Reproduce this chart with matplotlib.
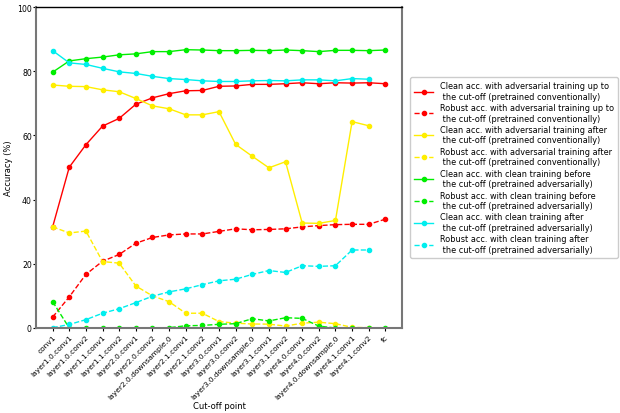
import matplotlib
matplotlib.use('Agg')
import matplotlib.pyplot as plt

layers = ['conv1', 'layer1.0.conv1', 'layer1.0.conv2', 'layer1.1.conv1', 'layer1.1.conv2',
          'layer2.0.conv1', 'layer2.0.conv2', 'layer2.0.downsample.0', 'layer2.1.conv1',
          'layer2.1.conv2', 'layer3.0.conv1', 'layer3.0.conv2', 'layer3.0.downsample.0',
          'layer3.1.conv1', 'layer3.1.conv2', 'layer4.0.conv1', 'layer4.0.conv2',
          'layer4.0.downsample.0', 'layer4.1.conv1', 'layer4.1.conv2', 'fc']

# adversarial training up to the cut-off (pretrained conventionally)
clean_adv_upto = [31.5, 50.1, 57.1, 62.9, 65.3, 69.7, 71.7, 73.0, 73.9, 74.0, 75.3,
                  75.4, 75.9, 75.9, 76.1, 76.4, 76.1, 76.4, 76.3, 76.4, 76.1]
robust_adv_upto = [3.4, 9.7, 16.7, 20.8, 22.9, 26.4, 28.2, 29.0, 29.3, 29.3, 30.1,
                   30.9, 30.6, 30.7, 30.9, 31.5, 31.9, 32.2, 32.3, 32.3, 33.9]

# adversarial training after the cut-off (pretrained conventionally), no fc point
clean_adv_after = [75.7, 75.3, 75.2, 74.2, 73.6, 71.5, 69.2, 68.3, 66.4, 66.4, 67.4,
                   57.2, 53.5, 49.9, 51.8, 32.7, 32.6, 33.5, 64.3, 63.0]
robust_adv_after = [31.5, 29.6, 30.2, 20.7, 20.2, 13.1, 10.0, 8.2, 4.6, 4.6, 2.0,
                    1.5, 1.25, 1.2, 0.6, 1.5, 1.8, 1.35, 0.2, 0.1]

# clean training before the cut-off (pretrained adversarially)
clean_cln_before = [79.7, 83.2, 83.9, 84.4, 85.1, 85.4, 86.1, 86.1, 86.7, 86.6, 86.4,
                    86.4, 86.5, 86.4, 86.6, 86.4, 86.1, 86.5, 86.5, 86.4, 86.6]
robust_cln_before = [8.2, 0.0, 0.0, 0.0, 0.0, 0.0, 0.0, 0.1, 0.7, 0.8, 1.15,
                     1.35, 2.9, 2.2, 3.2, 3.0, 0.6, 0.0, 0.0, 0.1, 0.0]

# clean training after the cut-off (pretrained adversarially), no fc point
clean_cln_after = [86.4, 82.6, 82.1, 80.9, 79.8, 79.3, 78.4, 77.7, 77.4, 77.0, 76.8,
                   76.8, 77.0, 77.1, 77.0, 77.3, 77.3, 77.0, 77.7, 77.5]
robust_cln_after = [0.1, 1.1, 2.6, 4.6, 6.0, 7.9, 9.9, 11.25, 12.2, 13.5, 14.7,
                    15.2, 16.7, 17.9, 17.3, 19.4, 19.2, 19.4, 24.3, 24.3]

series = [
    (clean_adv_upto, 'red', '-', 'Clean acc. with adversarial training up to\n the cut-off (pretrained conventionally)'),
    (robust_adv_upto, 'red', '--', 'Robust acc. with adversarial training up to\n the cut-off (pretrained conventionally)'),
    (clean_adv_after, '#ffee00', '-', 'Clean acc. with adversarial training after\n the cut-off (pretrained conventionally)'),
    (robust_adv_after, '#ffee00', '--', 'Robust acc. with adversarial training after\n the cut-off (pretrained conventionally)'),
    (clean_cln_before, '#00ee00', '-', 'Clean acc. with clean training before\n the cut-off (pretrained adversarially)'),
    (robust_cln_before, '#00ee00', '--', 'Robust acc. with clean training before\n the cut-off (pretrained adversarially)'),
    (clean_cln_after, '#00eeee', '-', 'Clean acc. with clean training after\n the cut-off (pretrained adversarially)'),
    (robust_cln_after, '#00eeee', '--', 'Robust acc. with clean training after\n the cut-off (pretrained adversarially)'),
]

fig = plt.figure(figsize=(6.2, 4.14), dpi=100)
ax = fig.add_axes([36/620, 1 - 329/414, 366/620, 321/414])

for vals, color, ls, label in series:
    x = list(range(len(vals)))
    ax.plot(x, vals, color=color, linestyle=ls, linewidth=1, marker='o',
            markersize=3, label=label)

ax.set_xlim(-1, 21)
ax.set_ylim(0, 100)
ax.set_xticks(range(len(layers)))
ax.set_xticklabels(layers, rotation=45, ha='right', rotation_mode='anchor', fontsize=5.4)
ax.set_yticks([0, 20, 40, 60, 80, 100])
ax.tick_params(axis='y', labelsize=5.6, length=2, pad=1)
ax.tick_params(axis='x', length=2, pad=2)
ax.set_xlabel('Cut-off point', fontsize=6)
ax.xaxis.set_label_coords(0.5, -0.228)
ax.set_ylabel('Accuracy (%)', fontsize=6, labelpad=3)

for side in ['left', 'bottom', 'right']:
    ax.spines[side].set_color('#777777')
    ax.spines[side].set_linewidth(1.5)
ax.spines['top'].set_color('black')
ax.spines['top'].set_linewidth(1)

ax.legend(loc='center left', bbox_to_anchor=(1.011, 0.5), fontsize=5.9,
          handlelength=2.3, labelspacing=0.3, borderpad=0.5, framealpha=1)

fig.savefig('out.png', dpi=100)
